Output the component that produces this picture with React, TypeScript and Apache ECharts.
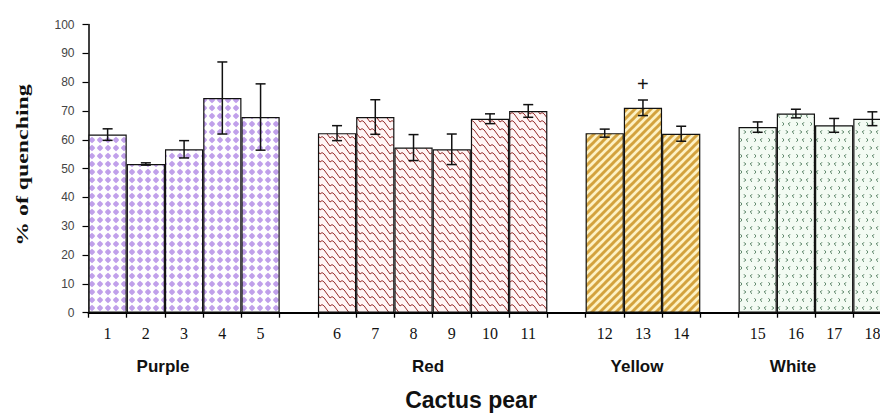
import React, { useEffect, useRef } from "react";
import * as echarts from "echarts";

// ---- data ----
const tickLabels = ["1", "2", "3", "4", "5", "6", "7", "8", "9", "10", "11", "12", "13", "14", "15", "16", "17", "18"];
const groupNames = ["Purple", "Red", "Yellow", "White"];
const purpleVals = [61.8, 51.6, 56.7, 74.5, 67.9];
const purpleErr = [2.0, 0.4, 3.0, 12.5, 11.5];
const redVals = [62.3, 67.9, 57.3, 56.7, 67.3, 70.0];
const redErr = [2.6, 6.0, 4.5, 5.3, 1.7, 2.2];
const yellowVals = [62.3, 71.1, 62.1];
const yellowErr = [1.4, 2.7, 2.6];
const whiteVals = [64.4, 69.1, 65.0, 67.3];
const whiteErr = [1.8, 1.5, 2.4, 2.4];
const annotated = ["13"]; // "+" mark
const yTicks = { min: 0, max: 100, interval: 10 };

function makeCanvas(w: number, h: number, draw: (ctx: CanvasRenderingContext2D) => void) {
  const c = document.createElement("canvas");
  c.width = w;
  c.height = h;
  const ctx = c.getContext("2d") as CanvasRenderingContext2D;
  draw(ctx);
  return c;
}

function makePatterns() {
  const purple = makeCanvas(8, 8, (ctx) => {
    ctx.fillStyle = "#ffffff";
    ctx.fillRect(0, 0, 8, 8);
    ctx.fillStyle = "#c0a0ea";
    ctx.beginPath();
    ctx.moveTo(4, 0.8);
    ctx.quadraticCurveTo(5.9, 2.1, 7.2, 4);
    ctx.quadraticCurveTo(5.9, 5.9, 4, 7.2);
    ctx.quadraticCurveTo(2.1, 5.9, 0.8, 4);
    ctx.quadraticCurveTo(2.1, 2.1, 4, 0.8);
    ctx.fill();
  });
  const red = makeCanvas(10, 8, (ctx) => {
    ctx.fillStyle = "#fff5f5";
    ctx.fillRect(0, 0, 10, 8);
    ctx.strokeStyle = "#962d2b";
    ctx.lineWidth = 1;
    [-8, 0, 8].forEach((dy) => {
      ctx.beginPath();
      ctx.moveTo(0, 2 + dy);
      ctx.quadraticCurveTo(2, -0.8 + dy, 4.2, 2 + dy);
      ctx.lineTo(10, 10 + dy);
      ctx.stroke();
    });
  });
  const yellow = makeCanvas(8, 8, (ctx) => {
    ctx.fillStyle = "#fdf1c4";
    ctx.fillRect(0, 0, 8, 8);
    ctx.strokeStyle = "#d3a23f";
    ctx.lineWidth = 3;
    const segs = [[-1, 9, 9, -1], [-5, 5, 5, -5], [3, 13, 13, 3]];
    segs.forEach(([a, b, c, d]) => {
      ctx.beginPath();
      ctx.moveTo(a, b);
      ctx.lineTo(c, d);
      ctx.stroke();
    });
  });
  const white = makeCanvas(14, 16, (ctx) => {
    ctx.fillStyle = "#f3fbf3";
    ctx.fillRect(0, 0, 14, 16);
    ctx.strokeStyle = "#3f6e4e";
    ctx.lineWidth = 1;
    const chev = (x: number, y: number, dir: number) => {
      ctx.beginPath();
      ctx.moveTo(x, y - 1.7);
      ctx.lineTo(x + 1.7 * dir, y);
      ctx.lineTo(x, y + 1.7);
      ctx.stroke();
    };
    chev(2, 4, 1);
    chev(10, 4, -1);
    chev(6, 12, -1);
    chev(12.5, 12, 1);
  });
  return { purple, red, yellow, white };
}

export default function App() {
  const ref = useRef<HTMLDivElement>(null);
  useEffect(() => {
    if (!ref.current) return;
    const chart = echarts.init(ref.current, undefined, { renderer: "svg" });
    const pats = makePatterns();
    const groups = [
      { vals: purpleVals, errs: purpleErr, pat: pats.purple },
      { vals: redVals, errs: redErr, pat: pats.red },
      { vals: yellowVals, errs: yellowErr, pat: pats.yellow },
      { vals: whiteVals, errs: whiteErr, pat: pats.white },
    ];
    const cats: string[] = [];
    const barData: any[] = [];
    const errData: any[] = [];
    let n = 0;
    groups.forEach((g, gi) => {
      if (gi > 0) {
        cats.push("");
        barData.push("-");
      }
      g.vals.forEach((v, i) => {
        const lab = tickLabels[n];
        cats.push(lab);
        barData.push({
          value: v,
          itemStyle: { color: { image: g.pat, repeat: "repeat" } },
        });
        errData.push([cats.length - 1, v, g.errs[i], annotated.includes(lab) ? "+" : ""]);
        n++;
      });
    });

    const groupLabelX = [163, 428, 637, 793];

    chart.setOption({
      animation: false,
      backgroundColor: "#ffffff",
      grid: { left: 88.5, top: 24.5, width: 803, height: 288.2 },
      xAxis: {
        type: "category",
        data: cats,
        axisLine: { lineStyle: { color: "#000", width: 2 } },
        axisTick: { show: true, length: 5, lineStyle: { color: "#000", width: 1.3 } },
        axisLabel: {
          interval: 0,
          margin: 13,
          color: "#111",
          fontFamily: "Liberation Serif",
          fontSize: 16,
        },
      },
      yAxis: {
        type: "value",
        min: yTicks.min,
        max: yTicks.max,
        interval: yTicks.interval,
        splitLine: { show: false },
        axisLine: { show: true, lineStyle: { color: "#000", width: 1.5 } },
        axisTick: { show: true, length: 6, lineStyle: { color: "#000", width: 1.2 } },
        axisLabel: {
          margin: 14,
          color: "#444",
          fontFamily: "Liberation Sans",
          fontSize: 12,
        },
      },
      series: [
        {
          type: "bar",
          data: barData,
          barWidth: "100%",
          itemStyle: { borderColor: "#111", borderWidth: 1.2 },
        },
        {
          type: "custom",
          data: errData,
          z: 10,
          renderItem: (params: any, api: any) => {
            const x = api.value(0);
            const m = api.value(1);
            const e = api.value(2);
            const mark = errData[params.dataIndex][3];
            const top = api.coord([x, m + e]);
            const bot = api.coord([x, m - e]);
            const hw = 5;
            const st = { stroke: "#111", lineWidth: 1.5 };
            const children: any[] = [
              { type: "line", shape: { x1: top[0], y1: top[1], x2: bot[0], y2: bot[1] }, style: st },
              { type: "line", shape: { x1: top[0] - hw, y1: top[1], x2: top[0] + hw, y2: top[1] }, style: st },
              { type: "line", shape: { x1: bot[0] - hw, y1: bot[1], x2: bot[0] + hw, y2: bot[1] }, style: st },
            ];
            if (mark) {
              children.push({
                type: "text",
                x: top[0],
                y: top[1] - 16,
                style: {
                  text: mark,
                  fill: "#111",
                  font: '20px "Liberation Sans"',
                  align: "center",
                  verticalAlign: "middle",
                },
              });
            }
            return { type: "group", children };
          },
        },
      ],
      graphic: [
        {
          type: "text",
          x: 22,
          y: 165,
          rotation: Math.PI / 2,
          scaleX: 1.4,
          style: {
            text: "% of quenching",
            fill: "#111",
            font: 'bold 17px "Liberation Serif"',
            align: "center",
            verticalAlign: "middle",
          },
        },
        ...groupNames.map((name, i) => ({
          type: "text",
          x: groupLabelX[i],
          y: 366,
          style: {
            text: name,
            fill: "#111",
            font: 'bold 17px "Liberation Sans"',
            align: "center",
            verticalAlign: "middle",
          },
        })),
        {
          type: "text",
          x: 471,
          y: 400,
          style: {
            text: "Cactus pear",
            fill: "#111",
            font: 'bold 23px "Liberation Sans"',
            align: "center",
            verticalAlign: "middle",
          },
        },
      ],
    });
    return () => chart.dispose();
  }, []);
  return (
    <div style={{ position: "fixed", left: 0, top: 0, width: 880, height: 419, overflow: "hidden" }}>
      <div ref={ref} style={{ width: 910, height: 419 }} />
    </div>
  );
}
